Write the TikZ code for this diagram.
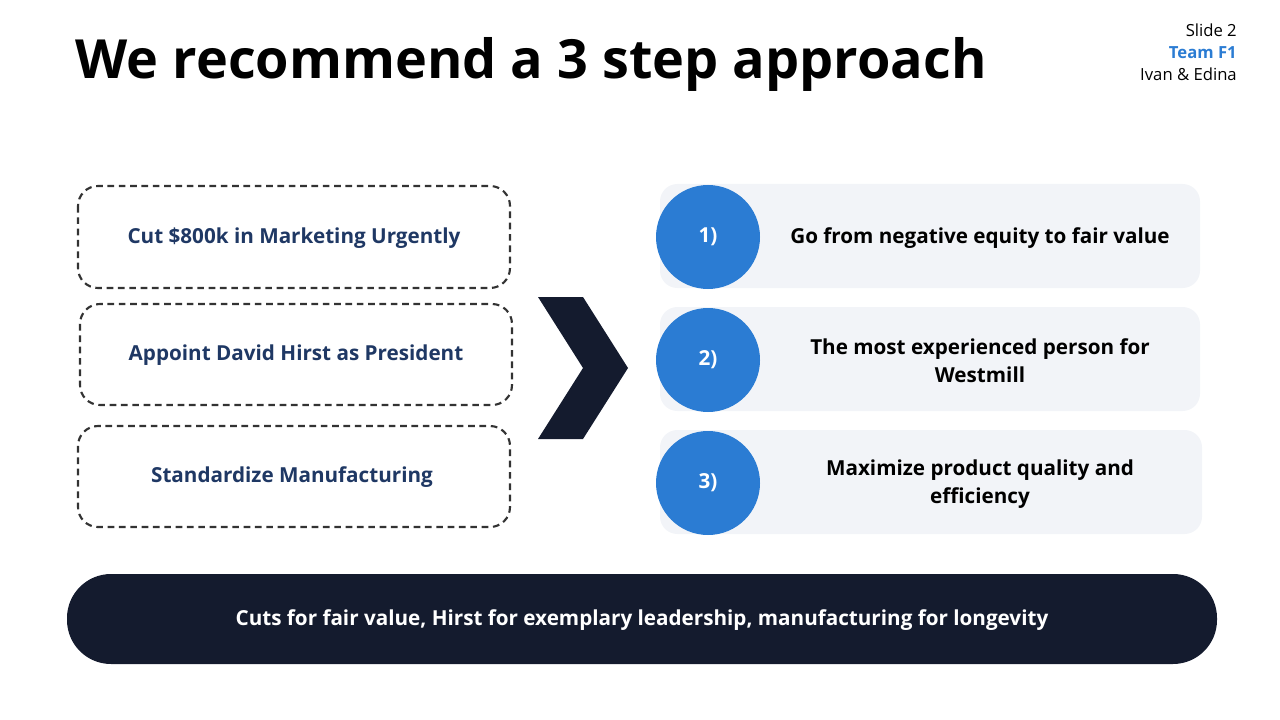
\documentclass[tikz,border=0pt]{standalone}
\usepackage{fontspec}
\setmainfont{Open Sans}
\begin{document}
\begin{tikzpicture}[x=0.75pt,y=-0.75pt,
  dbox/.style={draw=black!80,line width=1.6pt,dash pattern=on 5pt off 3.5pt,rounded corners=15pt},
  num/.style={circle,fill=blue1,minimum size=78pt,inner sep=0pt,text=white,font=\fontsize{15.5}{19}\selectfont\bfseries},
  lt/.style={font=\fontsize{15.5}{19}\selectfont\bfseries,text=navy2},
  rt/.style={font=\fontsize{15.5}{21}\selectfont\bfseries,align=center,text=black}]
\definecolor{navy}{HTML}{141B2E}
\definecolor{navy2}{HTML}{1F3864}
\definecolor{gray1}{HTML}{F2F4F8}
\definecolor{blue1}{HTML}{2B7CD3}
\useasboundingbox (0,0) rectangle (1280,720);
\node[anchor=west,font=\fontsize{40.5}{46}\selectfont\bfseries] (title) at (71,64) {We recommend a 3 step approach};
\node[anchor=north east,align=right,font=\fontsize{12.5}{16.5}\selectfont,inner sep=0pt] (meta) at (1237,24) {Slide 2\\\textcolor{blue1}{\bfseries Team F1}\\Ivan \& Edina};
\draw[dbox] (78,186) rectangle (510,288);
\draw[dbox] (80,304) rectangle (512,405);
\draw[dbox] (78,426) rectangle (510,527);
\node[lt] (l1) at (294,238) {Cut \$800k in Marketing Urgently};
\node[lt] (l2) at (296,355) {Appoint David Hirst as President};
\node[lt] (l3) at (292,477) {Standardize Manufacturing};
\fill[navy] (538,297) -- (583,297) -- (628,368) -- (583,439) -- (538,439) -- (583,368) -- cycle;
\fill[gray1,rounded corners=13pt] (660,184) rectangle (1200,288);
\fill[gray1,rounded corners=13pt] (660,307) rectangle (1200,411);
\fill[gray1,rounded corners=13pt] (660,430) rectangle (1202,534);
\node[num] (c1) at (708,237) {1)};
\node[num] (c2) at (708,360) {2)};
\node[num] (c3) at (708,483) {3)};
\node[rt] (r1) at (980,238) {Go from negative equity to fair value};
\node[rt] (r2) at (980,361) {The most experienced person for\\Westmill};
\node[rt] (r3) at (980,484) {Maximize product quality and\\efficiency};
\fill[navy,rounded corners=33pt] (67,574) rectangle (1217,664);
\node[text=white,font=\fontsize{15.5}{19}\selectfont\bfseries] (bar) at (642,620) {Cuts for fair value, Hirst for exemplary leadership, manufacturing for longevity};
\end{tikzpicture}
\end{document}
